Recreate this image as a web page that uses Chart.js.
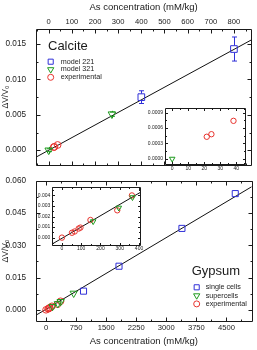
<!DOCTYPE html>
<html>
<head>
<meta charset="utf-8">
<script src="https://cdn.jsdelivr.net/npm/chart.js@4.4.1/dist/chart.umd.min.js"></script>
<style>
  body { margin: 0; background: #fff; }
  #wrap { position: relative; width: 257px; height: 350px; overflow: hidden; background: #fff; }
  #wrap canvas { position: absolute; }
</style>
</head>
<body>
<div id="wrap">
  <canvas id="calcite" width="257" height="180" style="left:0;top:0"></canvas>
  <canvas id="gypsum" width="257" height="184" style="left:0;top:166px"></canvas>
  <canvas id="calciteInset" width="110" height="72" style="left:140px;top:103px"></canvas>
  <canvas id="gypsumInset" width="117" height="72" style="left:28px;top:182px"></canvas>
</div>
<script>
// calcite panel (top), x = As concentration (mM/kg), y = dV/V0
const calcite221X   = [400, 800];
const calcite221Y   = [0.0075, 0.0143];
const calcite221Err = [0.0009, 0.0017];
const calcite321X   = [0, 273];
const calcite321Y   = [0.0000, 0.0051];
const calcite321Err = [0.0002, 0.0003];
const calciteExpX   = [21.6, 24.5, 38.3];
const calciteExpY   = [0.00043, 0.00048, 0.00074];
const calciteFitX   = [-55, 875];
const calciteFitY   = [-0.00098, 0.01558];

// gypsum panel (bottom)
const gypSingleX   = [935, 1820, 3390, 4720];
const gypSingleY   = [0.0087, 0.0203, 0.0379, 0.0541];
const gypSuperX    = [162, 295, 366, 690];
const gypSuperY    = [0.00154, 0.00283, 0.00382, 0.0077];
const gypExpX      = [0, 52, 66, 87, 96, 148, 287, 363];
const gypExpY      = [0.0000, 0.00046, 0.00058, 0.00086, 0.00095, 0.00167, 0.00259, 0.0040];
const gypFitX      = [-250, 5130];
const gypFitY      = [-0.0025, 0.0573];
const gypInsetFitX = [-50, 405];
const gypInsetFitY = [-0.0006, 0.00427];

// tick labels
const calciteXTicks      = [0, 100, 200, 300, 400, 500, 600, 700, 800];
const calciteYTicks      = [0, 0.005, 0.010, 0.015];
const calciteInsetXTicks = [0, 10, 20, 30, 40];
const calciteInsetYTicks = [0, 0.0003, 0.0006, 0.0009];
const gypXTicks          = [0, 750, 1500, 2250, 3000, 3750, 4500];
const gypYTicks          = [0, 0.015, 0.030, 0.045, 0.060];
const gypInsetXTicks     = [0, 100, 200, 300, 400];
const gypInsetYTicks     = [0, 0.001, 0.002, 0.003, 0.004];

const BLUE = '#3030d8', GREEN = '#1e9a1e', RED = '#e8342f', INK = '#1a1a1a';
const FONT = '"Liberation Sans", Arial, sans-serif';
Chart.defaults.font.family = FONT;

const pts = (xs, ys) => xs.map((x, i) => ({ x, y: ys[i] }));

function marks(label, xs, ys, style, color, r, err) {
  return {
    label, data: pts(xs, ys), errY: err,
    pointStyle: style, pointRotation: style === 'triangle' ? 180 : 0,
    pointRadius: r, borderColor: color, backgroundColor: 'transparent',
    pointBorderWidth: 1, showLine: false, order: 1
  };
}
function fitLine(xs, ys) {
  return { label: 'fit', data: pts(xs, ys), showLine: true, pointRadius: 0,
           borderColor: '#111', borderWidth: 1, order: 5 };
}

function axis(o) {
  return {
    type: 'linear', position: o.position, min: o.min, max: o.max,
    grid: { display: false, drawTicks: false }, border: { display: false },
    afterBuildTicks: s => { s.ticks = o.ticks.map(v => ({ value: v })); },
    afterFit: s => { if (o.position === 'left') s.width = o.size; else s.height = o.size; },
    ticks: { autoSkip: false, maxRotation: 0, minRotation: 0, padding: o.pad, color: INK,
             font: { size: o.font }, callback: o.fmt },
    title: o.title
      ? { display: true, text: o.title, color: INK, font: { size: o.titleFont }, padding: o.titlePad }
      : { display: false }
  };
}

// frame with inward major/minor ticks on all four sides
function tickList(scale, major, minor) {
  const vals = scale.ticks.map(t => t.value);
  const step = vals[1] - vals[0];
  const out = vals.map(v => [v, major]);
  for (let v = vals[0] - step / 2; v >= scale.min; v -= step) out.push([v, minor]);
  for (let v = vals[0] + step / 2; v <= scale.max; v += step) out.push([v, minor]);
  return out;
}
const frameTicks = {
  id: 'frameTicks',
  beforeDraw(chart, args, o) {
    if (!o.fill) return;
    const a = chart.chartArea, ctx = chart.ctx;
    ctx.save();
    ctx.fillStyle = o.fill;
    ctx.fillRect(a.left, a.top, a.right - a.left, a.bottom - a.top);
    ctx.restore();
  },
  afterDraw(chart, args, o) {
    const { ctx, chartArea: a, scales } = chart;
    const L = Math.round(a.left) + 0.5, R = Math.round(a.right) + 0.5;
    const T = Math.round(a.top) + 0.5, B = Math.round(a.bottom) + 0.5;
    ctx.save();
    ctx.strokeStyle = INK;
    ctx.lineWidth = 1;
    ctx.beginPath();
    ctx.rect(L, T, R - L, B - T);
    tickList(scales.x, o.major, o.minor).forEach(([v, len]) => {
      const p = Math.round(scales.x.getPixelForValue(v)) + 0.5;
      ctx.moveTo(p, T); ctx.lineTo(p, T + len);
      ctx.moveTo(p, B); ctx.lineTo(p, B - len);
    });
    tickList(scales.y, o.major, o.minor).forEach(([v, len]) => {
      const p = Math.round(scales.y.getPixelForValue(v)) + 0.5;
      ctx.moveTo(L, p); ctx.lineTo(L + len, p);
      ctx.moveTo(R, p); ctx.lineTo(R - len, p);
    });
    ctx.stroke();
    ctx.restore();
  }
};

// vertical error bars with caps
const errorBars = {
  id: 'errorBars',
  afterDatasetsDraw(chart) {
    const ctx = chart.ctx;
    chart.data.datasets.forEach((ds, i) => {
      if (!ds.errY) return;
      const meta = chart.getDatasetMeta(i);
      const ys = chart.scales[meta.yAxisID];
      ctx.save();
      ctx.strokeStyle = ds.borderColor;
      ctx.lineWidth = 1;
      ctx.beginPath();
      meta.data.forEach((pt, j) => {
        const e = ds.errY[j];
        if (!e) return;
        const v = ds.data[j].y;
        const y1 = ys.getPixelForValue(v + e), y2 = ys.getPixelForValue(v - e);
        const x = Math.round(pt.x) + 0.5, h = ds.pointRadius * 0.75;
        ctx.moveTo(x, y1); ctx.lineTo(x, pt.y - h);
        ctx.moveTo(x, pt.y + h); ctx.lineTo(x, y2);
        ctx.moveTo(x - 2.5, y1); ctx.lineTo(x + 2.5, y1);
        ctx.moveTo(x - 2.5, y2); ctx.lineTo(x + 2.5, y2);
      });
      ctx.stroke();
      ctx.restore();
    });
  }
};

function drawMark(ctx, style, rot, r, x, y, color) {
  ctx.save();
  ctx.strokeStyle = color;
  ctx.lineWidth = 1;
  ctx.beginPath();
  if (style === 'rect') {
    const s = r * Math.SQRT1_2;
    ctx.rect(x - s, y - s, 2 * s, 2 * s);
  } else if (style === 'triangle') {
    let ang = rot * Math.PI / 180;
    for (let k = 0; k < 3; k++) {
      const px = x + Math.sin(ang) * r, py = y - Math.cos(ang) * r;
      if (k === 0) ctx.moveTo(px, py); else ctx.lineTo(px, py);
      ang += 2 * Math.PI / 3;
    }
    ctx.closePath();
  } else {
    ctx.arc(x, y, r, 0, 2 * Math.PI);
  }
  ctx.stroke();
  ctx.restore();
}

// legend inside the plot with a material name on top
const inLegend = {
  id: 'inLegend',
  afterDraw(chart, args, o) {
    if (!o.items) return;
    const ctx = chart.ctx;
    ctx.save();
    ctx.textBaseline = 'middle';
    ctx.textAlign = 'left';
    ctx.fillStyle = INK;
    ctx.font = '13px ' + FONT;
    ctx.fillText(o.title, o.titleX, o.titleY);
    ctx.font = '7.2px ' + FONT;
    o.items.forEach((idx, i) => {
      const ds = chart.data.datasets[idx];
      const y = o.y + i * o.gap;
      drawMark(ctx, ds.pointStyle, ds.pointRotation, ds.pointStyle === 'circle' ? 3 : 3.6, o.markX, y, ds.borderColor);
      ctx.fillStyle = INK;
      ctx.fillText(ds.label, o.textX, y);
    });
    ctx.restore();
  }
};

Chart.register(frameTicks, errorBars, inLegend);

const common = {
  responsive: false, animation: false, events: [],
  plugins: { legend: { display: false }, tooltip: { enabled: false } }
};

// top panel: calcite
new Chart(document.getElementById('calcite'), {
  type: 'scatter',
  data: { datasets: [
    marks('model 221', calcite221X, calcite221Y, 'rect', BLUE, 4.7, calcite221Err),
    marks('model 321', calcite321X, calcite321Y, 'triangle', GREEN, 4.4, calcite321Err),
    marks('experimental', calciteExpX, calciteExpY, 'circle', RED, 3.4),
    fitLine(calciteFitX, calciteFitY)
  ]},
  options: {
    ...common,
    layout: { padding: { left: 0, right: 3, top: 0, bottom: 4 } },
    plugins: { ...common.plugins,
      frameTicks: { major: 4, minor: 2 },
      inLegend: { title: 'Calcite', titleX: 48, titleY: 46.5, items: [0, 1, 2],
                  markX: 50.7, textX: 60.7, y: 61.7, gap: 7.8 } },
    scales: {
      x: axis({ position: 'top', min: -55, max: 875, ticks: calciteXTicks, size: 29, pad: 2.4,
                font: 7.6, fmt: v => String(v), title: 'As concentration (mM/kg)',
                titleFont: 9.5, titlePad: { top: 1.3, bottom: 0 } }),
      y: axis({ position: 'left', min: -0.0021, max: 0.01713, ticks: calciteYTicks, size: 36, pad: 10,
                font: 8.2, fmt: v => v.toFixed(3), title: 'ΔV/V₀',
                titleFont: 8.5, titlePad: { top: 0.4, bottom: 0 } })
    }
  }
});

// bottom panel: gypsum
new Chart(document.getElementById('gypsum'), {
  type: 'scatter',
  data: { datasets: [
    marks('single cells', gypSingleX, gypSingleY, 'rect', BLUE, 4.3),
    marks('supercells', gypSuperX, gypSuperY, 'triangle', GREEN, 4.2),
    marks('experimental', gypExpX, gypExpY, 'circle', RED, 3.3),
    fitLine(gypFitX, gypFitY)
  ]},
  options: {
    ...common,
    layout: { padding: { left: 0, right: 3, top: 10, bottom: 0 } },
    plugins: { ...common.plugins,
      frameTicks: { major: 4, minor: 2 },
      inLegend: { title: 'Gypsum', titleX: 191.7, titleY: 105, items: [0, 1, 2],
                  markX: 196.7, textX: 205.7, y: 121.3, gap: 8.3 } },
    scales: {
      x: axis({ position: 'bottom', min: -250, max: 5130, ticks: gypXTicks, size: 29, pad: 2.1,
                font: 7.6, fmt: v => String(v), title: 'As concentration (mM/kg)',
                titleFont: 9.5, titlePad: { top: 0, bottom: 2.6 } }),
      y: axis({ position: 'left', min: -0.0052, max: 0.060, ticks: gypYTicks, size: 36, pad: 10,
                font: 8.2, fmt: v => v.toFixed(3), title: 'ΔV/V₀',
                titleFont: 8.5, titlePad: { top: 0.4, bottom: 0 } })
    }
  }
});

// calcite inset
new Chart(document.getElementById('calciteInset'), {
  type: 'scatter',
  data: { datasets: [
    marks('model 321', calcite321X, calcite321Y, 'triangle', GREEN, 3.2),
    marks('experimental', calciteExpX, calciteExpY, 'circle', RED, 2.7)
  ]},
  options: {
    ...common,
    layout: { padding: { left: 0, right: 3.5, top: 3, bottom: 0 } },
    plugins: { ...common.plugins, frameTicks: { major: 2.5, minor: 1.5, fill: '#fff' } },
    scales: {
      x: axis({ position: 'bottom', min: -4.5, max: 45.5, ticks: calciteInsetXTicks, size: 11, pad: 1.3,
                font: 5, fmt: v => String(v) }),
      y: axis({ position: 'left', min: -0.0001, max: 0.00099, ticks: calciteInsetYTicks, size: 25, pad: 2,
                font: 5, fmt: v => v.toFixed(4) })
    }
  }
});

// gypsum inset
new Chart(document.getElementById('gypsumInset'), {
  type: 'scatter',
  data: { datasets: [
    marks('supercells', gypSuperX, gypSuperY, 'triangle', GREEN, 3.2),
    marks('experimental', gypExpX, gypExpY, 'circle', RED, 2.7),
    fitLine(gypInsetFitX, gypInsetFitY)
  ]},
  options: {
    ...common,
    layout: { padding: { left: 0, right: 4.5, top: 3.7, bottom: 0 } },
    plugins: { ...common.plugins, frameTicks: { major: 2.5, minor: 1.5, fill: '#fff' } },
    scales: {
      x: axis({ position: 'bottom', min: -50, max: 405, ticks: gypInsetXTicks, size: 9, pad: 1,
                font: 5, fmt: v => String(v) }),
      y: axis({ position: 'left', min: -0.0007, max: 0.0048, ticks: gypInsetYTicks, size: 24.3, pad: 2,
                font: 5, fmt: v => v.toFixed(3) })
    }
  }
});
</script>
</body>
</html>
